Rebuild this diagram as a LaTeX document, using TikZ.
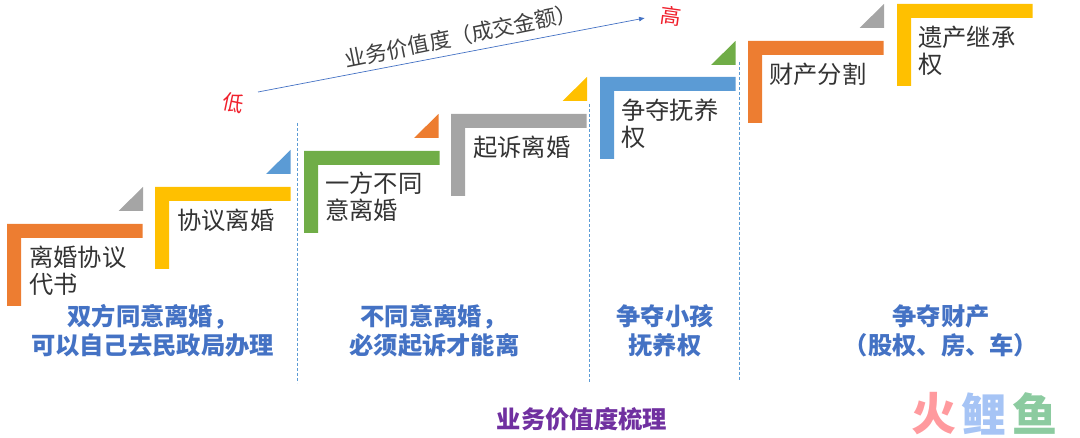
\documentclass[tikz,border=0pt]{standalone}
\usepackage{fontspec}
\setmainfont{Noto Sans CJK SC}
\usetikzlibrary{arrows.meta}
\definecolor{cOrange}{HTML}{ED7D31}
\definecolor{cGold}{HTML}{FFC000}
\definecolor{cGreen}{HTML}{70AD47}
\definecolor{cGray}{HTML}{A5A5A5}
\definecolor{cBlue}{HTML}{5B9BD5}
\definecolor{cNavy}{HTML}{4472C4}
\definecolor{cPurple}{HTML}{7030A0}
\definecolor{cRed}{HTML}{F0202C}
\definecolor{wRed}{HTML}{FF9A9E}
\definecolor{wBlue}{HTML}{A6C4F5}
\definecolor{wGreen}{HTML}{8CCBA0}
\newcommand{\stepshape}[3]{%
  \fill[#3] (#1,#2) -- ++(135.5,0) -- ++(0,14) -- ++(-121.5,0) -- ++(0,68) -- ++(-14,0) -- cycle;}
\newcommand{\cornertri}[3]{%
  \fill[#3] (#1,#2) -- ++(0,24) -- ++(-24.5,0) -- cycle;}
\tikzset{
  x=1pt,y=-1pt,
  steplabel/.style={anchor=west,inner sep=0pt,align=left,font=\fontsize{24.3}{27}\selectfont,text=black!80},
  grouplabel/.style={anchor=center,inner sep=0pt,align=center,font=\fontsize{24.3}{29}\selectfont\bfseries,text=cNavy},
  sepline/.style={draw=cBlue,line width=0.8pt,dash pattern=on 3pt off 2pt},
  lowhigh/.style={inner sep=0pt,font=\fontsize{21}{24}\selectfont,text=cRed},
  wm/.style={inner sep=0pt,font=\fontsize{45}{47}\selectfont\bfseries}
}
\begin{document}
\begin{tikzpicture}
\useasboundingbox (0,0) rectangle (1080,438);
% step shapes
\stepshape{7}{224}{cOrange}
\stepshape{155}{187}{cGold}
\stepshape{304}{151}{cGreen}
\stepshape{451}{114}{cGray}
\stepshape{600}{77}{cBlue}
\stepshape{748}{41}{cOrange}
\stepshape{897}{4}{cGold}
% corner triangles
\cornertri{143}{187}{cGray}
\cornertri{290.5}{150}{cBlue}
\cornertri{438.5}{114}{cOrange}
\cornertri{587}{77}{cGold}
\cornertri{735.5}{41}{cGreen}
\cornertri{884}{4}{cGray}
% step labels
\node[steplabel] (s1) at (29,271) {离婚协议\\代书};
\node[steplabel] (s2) at (177,220.5) {协议离婚};
\node[steplabel] (s3) at (325,197) {一方不同\\意离婚};
\node[steplabel] (s4) at (473,147.5) {起诉离婚};
\node[steplabel] (s5) at (621,124) {争夺抚养\\权};
\node[steplabel] (s6) at (769,74.5) {财产分割};
\node[steplabel] (s7) at (918,50.5) {遗产继承\\权};
% group labels
\node[grouplabel] (g1) at (152.5,330.5) {双方同意离婚，\\可以自己去民政局办理};
\node[grouplabel] (g2) at (434.5,330.5) {\hspace*{-2pt}不同意离婚，\\必须起诉才能离};
\node[grouplabel] (g3) at (665,330.5) {争夺小孩\\抚养权};
\node[grouplabel] (g4) at (941,330.5) {争夺财产\\（股权、房、车）};
\node[grouplabel,text=cPurple] (title) at (582,419) {业务价值度梳理};
% separators
\coordinate (d1a) at (297,123); \coordinate (d1b) at (297,383);
\coordinate (d2a) at (589,104); \coordinate (d2b) at (589,383);
\coordinate (d3a) at (739,62);  \coordinate (d3b) at (739,381);
\draw[sepline] (d1a) -- (d1b);
\draw[sepline] (d2a) -- (d2b);
\draw[sepline] (d3a) -- (d3b);
% value axis
\node[lowhigh,rotate=-12] (low) at (233,103) {低};
\node[lowhigh,rotate=-8] (high) at (671,16) {高};
\coordinate (axa) at (258,92);
\coordinate (axb) at (645,18);
\draw[cNavy,line width=0.7pt,-{Latex[length=6pt,width=5pt]}] (axa) -- (axb);
\node[inner sep=0pt,rotate=11.5,font=\fontsize{21.5}{24}\selectfont,text=black!75] (axis) at (461,36) {业务价值度（成交金额）};
% watermark
\node[wm,text=wRed] (w1) at (934,414) {火};
\node[wm,text=wBlue] (w2) at (984,414) {鲤};
\node[wm,text=wGreen] (w3) at (1035,414) {鱼};
\end{tikzpicture}
\end{document}
